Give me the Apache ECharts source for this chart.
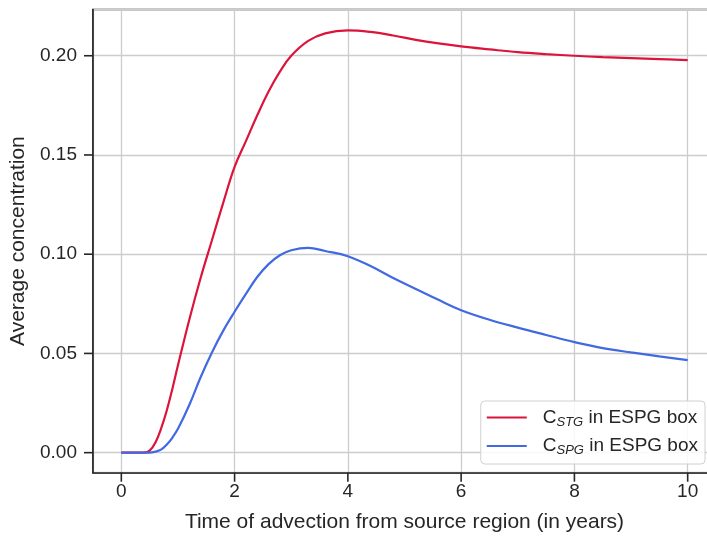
<!DOCTYPE html>
<html>
<head>
<meta charset="utf-8">
<script src="https://cdn.jsdelivr.net/npm/echarts@6/dist/echarts.min.js"></script>
<style>
  html, body { margin: 0; padding: 0; background: #fff; }
  #chart { width: 707px; height: 538px; }
</style>
</head>
<body>
<div id="chart"></div>
<script>
// time (years) shared by both curves
var years = [0, 0.4, 0.5, 0.6, 0.7, 0.8, 0.9, 1.0, 1.2, 1.4, 1.6, 1.8, 2.0, 2.2, 2.4, 2.6, 2.8, 3.0,
             3.3, 3.6, 4.0, 4.4, 4.8, 5.2, 5.6, 6.0, 6.5, 7.0, 7.5, 8.0, 8.5, 9.0, 9.5, 10.0];
var cstg = [0, 0, 0.001, 0.005, 0.012, 0.021, 0.032, 0.044, 0.067, 0.088, 0.107, 0.126, 0.144, 0.157, 0.170, 0.182, 0.192, 0.200,
            0.2075, 0.2113, 0.2128, 0.2120, 0.2102, 0.2080, 0.2062, 0.2047, 0.2032, 0.2018, 0.2008, 0.2000, 0.1993, 0.1988, 0.1983, 0.1978];
var cspg = [0, 0, 0, 0.0005, 0.0015, 0.004, 0.0075, 0.012, 0.024, 0.038, 0.0505, 0.0615, 0.071, 0.080, 0.0885, 0.095, 0.0995, 0.102,
            0.1032, 0.1016, 0.0990, 0.0940, 0.0880, 0.0825, 0.0770, 0.0718, 0.0670, 0.0630, 0.0593, 0.0557, 0.0527, 0.0505, 0.0485, 0.0466];
var xTicks = [0, 2, 4, 6, 8, 10];
var yTicks = [0, 0.05, 0.10, 0.15, 0.20];

function pairs(xs, ys) {
  var out = [];
  for (var i = 0; i < xs.length; i++) out.push([xs[i], ys[i]]);
  return out;
}

var font = 'Liberation Sans, Arial, sans-serif';
var dark = '#262626';

var chart = echarts.init(document.getElementById('chart'));
var option = {
  animation: false,
  textStyle: { fontFamily: font },
  grid: {
    left: 93, top: 9.5, width: 623, height: 463.2,
    outerBoundsMode: 'none', containLabel: false,
    show: true, borderColor: dark, borderWidth: 1.6
  },
  legend: {
    orient: 'vertical',
    right: 2, top: 401,
    icon: 'rect', itemWidth: 40, itemHeight: 2.2, itemGap: 8,
    backgroundColor: 'rgba(255,255,255,0.85)',
    borderColor: '#d0d0d0', borderWidth: 1, borderRadius: 4,
    padding: [7, 7, 7, 6],
    textStyle: {
      fontFamily: font, fontSize: 19, color: dark,
      rich: {
        c: { fontFamily: font, fontSize: 19, color: dark, padding: [0, 0, 0, 11] },
        s: { fontFamily: font, fontSize: 13, fontStyle: 'italic', color: dark, padding: [9, 0, 0, 0] },
        t: { fontFamily: font, fontSize: 19, color: dark }
      }
    },
    formatter: function (name) {
      return '{c|C}{s|' + name + '}{t| in ESPG box}';
    },
    data: ['STG', 'SPG']
  },
  xAxis: [{
    type: 'value', min: -0.5, max: 10.5, position: 'bottom',
    name: 'Time of advection from source region (in years)',
    nameLocation: 'middle', nameGap: 39,
    nameTextStyle: { fontFamily: font, fontSize: 21, color: dark },
    axisLine: { show: true, onZero: true, onZeroAxisIndex: 1, lineStyle: { color: dark, width: 1.6 } },
    axisTick: { show: false },
    axisLabel: {
      margin: 0, customValues: xTicks,
      // the outward tick mark is drawn as the first line of the label
      formatter: function (v) { return '{tk| }\n{v|' + v + '}'; },
      rich: {
        tk: { width: 1.6, height: 9, lineHeight: 9, fontSize: 1, backgroundColor: dark, align: 'center' },
        v: { fontFamily: font, fontSize: 19, lineHeight: 21, color: dark, align: 'center' }
      }
    },
    splitLine: { show: true, lineStyle: { color: '#cccccc', width: 1.3 } }
  }, {
    // helper axis: its zero sits on the left edge, so the y axis line stays there
    type: 'value', min: 0, max: 1, show: false
  }],
  yAxis: [{
    type: 'value', min: -0.0101, max: 0.2233,
    name: 'Average concentration',
    nameLocation: 'middle', nameGap: 59,
    nameTextStyle: { fontFamily: font, fontSize: 21, color: dark },
    axisLine: { show: true, onZero: true, onZeroAxisIndex: 1, lineStyle: { color: dark, width: 1.6 } },
    axisTick: { show: false },
    axisLabel: {
      margin: 0, customValues: yTicks,
      // value text followed by the outward tick mark
      formatter: function (v) { return '{v|' + v.toFixed(2) + '}{tk| }'; },
      rich: {
        v: { fontFamily: font, fontSize: 19, color: dark, padding: [0, 7, 0, 0], verticalAlign: 'middle' },
        tk: { width: 9, height: 1.6, fontSize: 1, backgroundColor: dark, verticalAlign: 'middle' }
      }
    },
    splitLine: { show: true, lineStyle: { color: '#cccccc', width: 1.3 } }
  }, {
    // helper axis: its zero sits on the bottom edge
    type: 'value', min: 0, max: 1, show: false
  }],
  series: [
    {
      name: 'STG', type: 'line', smooth: 0.4, symbol: 'none',
      lineStyle: { color: '#dc143c', width: 2.2 }, itemStyle: { color: '#dc143c' },
      data: pairs(years, cstg)
    },
    {
      name: 'SPG', type: 'line', smooth: 0.4, symbol: 'none',
      lineStyle: { color: '#4169e1', width: 2.2 }, itemStyle: { color: '#4169e1' },
      data: pairs(years, cspg)
    }
  ]
};
chart.setOption(option);
</script>
</body>
</html>
